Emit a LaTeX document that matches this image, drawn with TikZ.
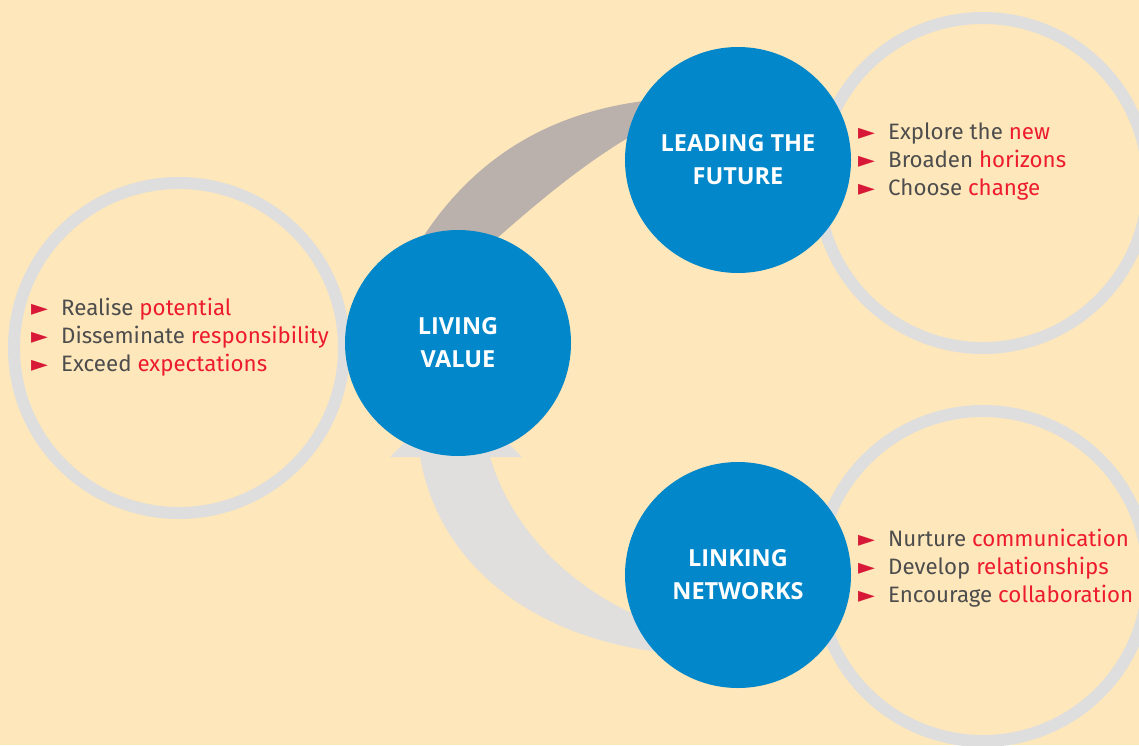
\documentclass[tikz,border=0pt]{standalone}
\usepackage{fontspec}
\setmainfont{Fira Sans}
\newfontfamily\headfont{Open Sans}
\newfontfamily\symfont{DejaVu Sans}
\definecolor{bg}{RGB}{254,231,186}
\definecolor{valueblue}{RGB}{2,136,202}
\definecolor{ringgray}{RGB}{222,222,222}
\definecolor{arcbrown}{RGB}{186,176,172}
\definecolor{arcgray}{RGB}{224,223,221}
\definecolor{textgray}{RGB}{77,77,77}
\definecolor{keyred}{RGB}{237,28,45}
\definecolor{bulred}{RGB}{215,25,55}
\newcommand{\bul}{\makebox[30pt][l]{\fontsize{22}{22}\selectfont\symfont\color{bulred}\char"25BA}}
\newcommand{\key}[1]{\textcolor{keyred}{#1}}

\begin{document}
\begin{tikzpicture}[x=1pt, y=-1pt,
	hub/.style={circle, fill=valueblue, minimum size=226pt, inner sep=0pt, text=white, font=\headfont\fontsize{23.5}{33}\selectfont\bfseries, align=center},
	ring/.style={circle, draw=ringgray, line width=12pt, minimum size=330pt, inner sep=0pt},
	list/.style={anchor=west, align=left, text=textgray, font=\fontsize{22.3}{28}\selectfont, inner sep=0pt}
]
	\useasboundingbox (0,0) rectangle (1139,745);
	\fill[bg] (0,0) rectangle (1139,745);

	\node[ring] (leftring) at (179,348) {};
	\node[ring] (topring) at (983,183) {};
	\node[ring] (bottomring) at (983,576) {};

	\fill[arcbrown] (423,260) -- (423,237) .. controls (480,150) and (560,110) .. (652,100) -- (652,125) .. controls (600,150) and (540,200) .. (495,240) -- (495,260) -- cycle;
	\fill[arcgray] (390,457) -- (456,391) -- (522,457) -- (490,457) .. controls (515,540) and (585,600) .. (668,628) -- (668,653) .. controls (540,640) and (440,570) .. (420,457) -- cycle;

	\node[hub] (living) at (458,343) {LIVING\\VALUE};
	\node[hub] (leading) at (738,160) {LEADING THE\\FUTURE};
	\node[hub] (linking) at (738,575) {LINKING\\NETWORKS};

	\node[list] (livinglist) at (31,337) {\bul Realise \key{potential}\\\bul Disseminate \key{responsibility}\\\bul Exceed \key{expectations}};
	\node[list] (leadinglist) at (858,162) {\bul Explore the \key{new}\\\bul Broaden \key{horizons}\\\bul Choose \key{change}};
	\node[list] (linkinglist) at (858,568) {\bul Nurture \key{communication}\\\bul Develop \key{relationships}\\\bul Encourage \key{collaboration}};
\end{tikzpicture}
\end{document}
